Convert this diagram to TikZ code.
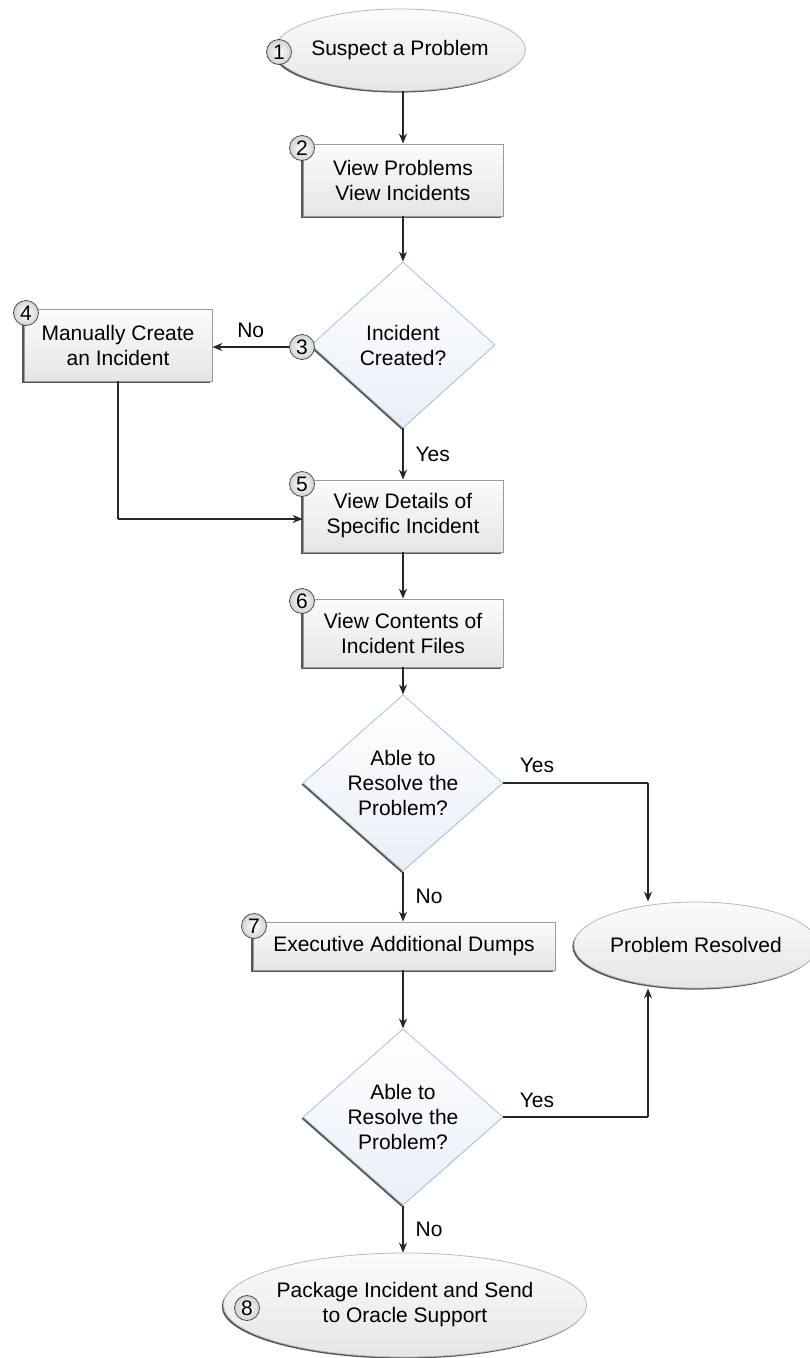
\documentclass[tikz,border=0pt]{standalone}
\usepackage{fontspec}
\setmainfont{Liberation Sans}
\usetikzlibrary{shapes.geometric,arrows.meta,shadows}
\definecolor{boxline}{HTML}{9A9A9A}
\definecolor{diaLine}{HTML}{A9C1DD}
\definecolor{diaFillA}{HTML}{FFFFFF}
\definecolor{diaFillB}{HTML}{E9EFF7}
\definecolor{shade}{HTML}{555555}
\tikzset{
  txt/.style={font=\fontsize{21}{25}\selectfont, align=center, text=black},
  stepbox/.style={txt, rectangle, draw=boxline, line width=0.8pt, top color=gray!3, bottom color=gray!20,
    drop shadow={shadow xshift=-1.6pt, shadow yshift=-1.6pt, fill=shade, opacity=1}, inner sep=0pt},
  decision/.style={txt, diamond, draw=diaLine, line width=0.8pt, top color=diaFillA, bottom color=diaFillB,
    drop shadow={shadow xshift=-1.6pt, shadow yshift=-1.6pt, fill=shade, opacity=1}, inner sep=0pt},
  terminal/.style={txt, ellipse, draw=gray!55, line width=0.8pt, top color=gray!3, bottom color=gray!20,
    drop shadow={shadow xshift=-1.6pt, shadow yshift=-1.6pt, fill=shade, opacity=1}, inner sep=0pt},
  badge/.style={circle, draw=gray!60!black, line width=0.8pt, inner color=white, outer color=gray!35,
    minimum size=25pt, inner sep=0pt, font=\fontsize{21}{22}\selectfont},
  conn/.style={line width=1.2pt, draw=black!85, -{Stealth[length=10pt,width=8pt]}},
  plain/.style={line width=1.2pt, draw=black!85},
  lbl/.style={font=\fontsize{21}{25}\selectfont, inner sep=0pt},
}
\begin{document}
\begin{tikzpicture}[x=1pt,y=-1pt]
\useasboundingbox (0,0) rectangle (810,1358);
% nodes
\node[terminal, minimum width=244pt, minimum height=82pt] (e1) at (400,50) {Suspect a Problem};
\node[badge] (n1) at (279,52) {1};
\node[stepbox, minimum width=200pt, minimum height=72pt] (b2) at (403,180) {View Problems\\View Incidents};
\node[badge] (n2) at (302,148) {2};
\node[decision, minimum width=184pt, minimum height=166pt] (d3) at (403,345) {Incident\\Created?};
\node[badge] (n3) at (302,347) {3};
\node[stepbox, minimum width=188pt, minimum height=72pt] (b4) at (118,345) {Manually Create\\an Incident};
\node[badge] (n4) at (26,313) {4};
\node[stepbox, minimum width=200pt, minimum height=72pt] (b5) at (403,516) {View Details of\\Specific Incident};
\node[badge] (n5) at (302,484) {5};
\node[stepbox, minimum width=200pt, minimum height=68pt] (b6) at (403,633) {View Contents of\\Incident Files};
\node[badge] (n6) at (302,601) {6};
\node[decision, minimum width=200pt, minimum height=166pt] (d6) at (403,783) {Able to\\Resolve the\\Problem?};
\node[stepbox, minimum width=302pt, minimum height=48pt] (b7) at (404,946) {Executive Additional Dumps};
\node[badge] (n7) at (254,926) {7};
\node[terminal, minimum width=244pt, minimum height=86pt] (pr) at (696,945) {Problem Resolved};
\node[decision, minimum width=200pt, minimum height=166pt] (d7) at (403,1117) {Able to\\Resolve the\\Problem?};
\node[terminal, minimum width=312pt, minimum height=104pt] (e8) at (405,1305) {Package Incident and Send\\to Oracle Support};
\node[badge] (n8) at (247,1308) {8};
% helper coordinates
\coordinate (c4) at (118,519);
\coordinate (k6) at (648,783);
\coordinate (k7) at (648,1117);
% connectors
\draw[conn] (e1.south -| b2.north) -- (b2.north);
\draw[conn] (b2.south) -- (d3.north);
\draw[conn] (n3.west) -- (n3.west -| b4.east) node[lbl, midway, above=9pt] {No};
\draw[plain] (b4.south) -- (c4);
\draw[conn] (c4) -- (c4 -| b5.west);
\draw[conn] (d3.south) -- (b5.north) node[lbl, midway, right=12pt] {Yes};
\draw[conn] (b5.south) -- (b6.north);
\draw[conn] (b6.south) -- (d6.north);
\draw[plain] (d6.east) -- (k6);
\node[lbl] (y6) at (537,765) {Yes};
\draw[conn] (k6) -- (k6 |- pr.north);
\draw[conn] (d6.south) -- (d6.south |- b7.north) node[lbl, midway, right=12pt] {No};
\draw[conn] (b7.south -| d7.north) -- (d7.north);
\draw[plain] (d7.east) -- (k7);
\node[lbl] (y7) at (537,1100) {Yes};
\draw[conn] (k7) -- (k7 |- pr.south);
\draw[conn] (d7.south) -- (d7.south |- e8.north) node[lbl, midway, right=12pt] {No};
\end{tikzpicture}
\end{document}
